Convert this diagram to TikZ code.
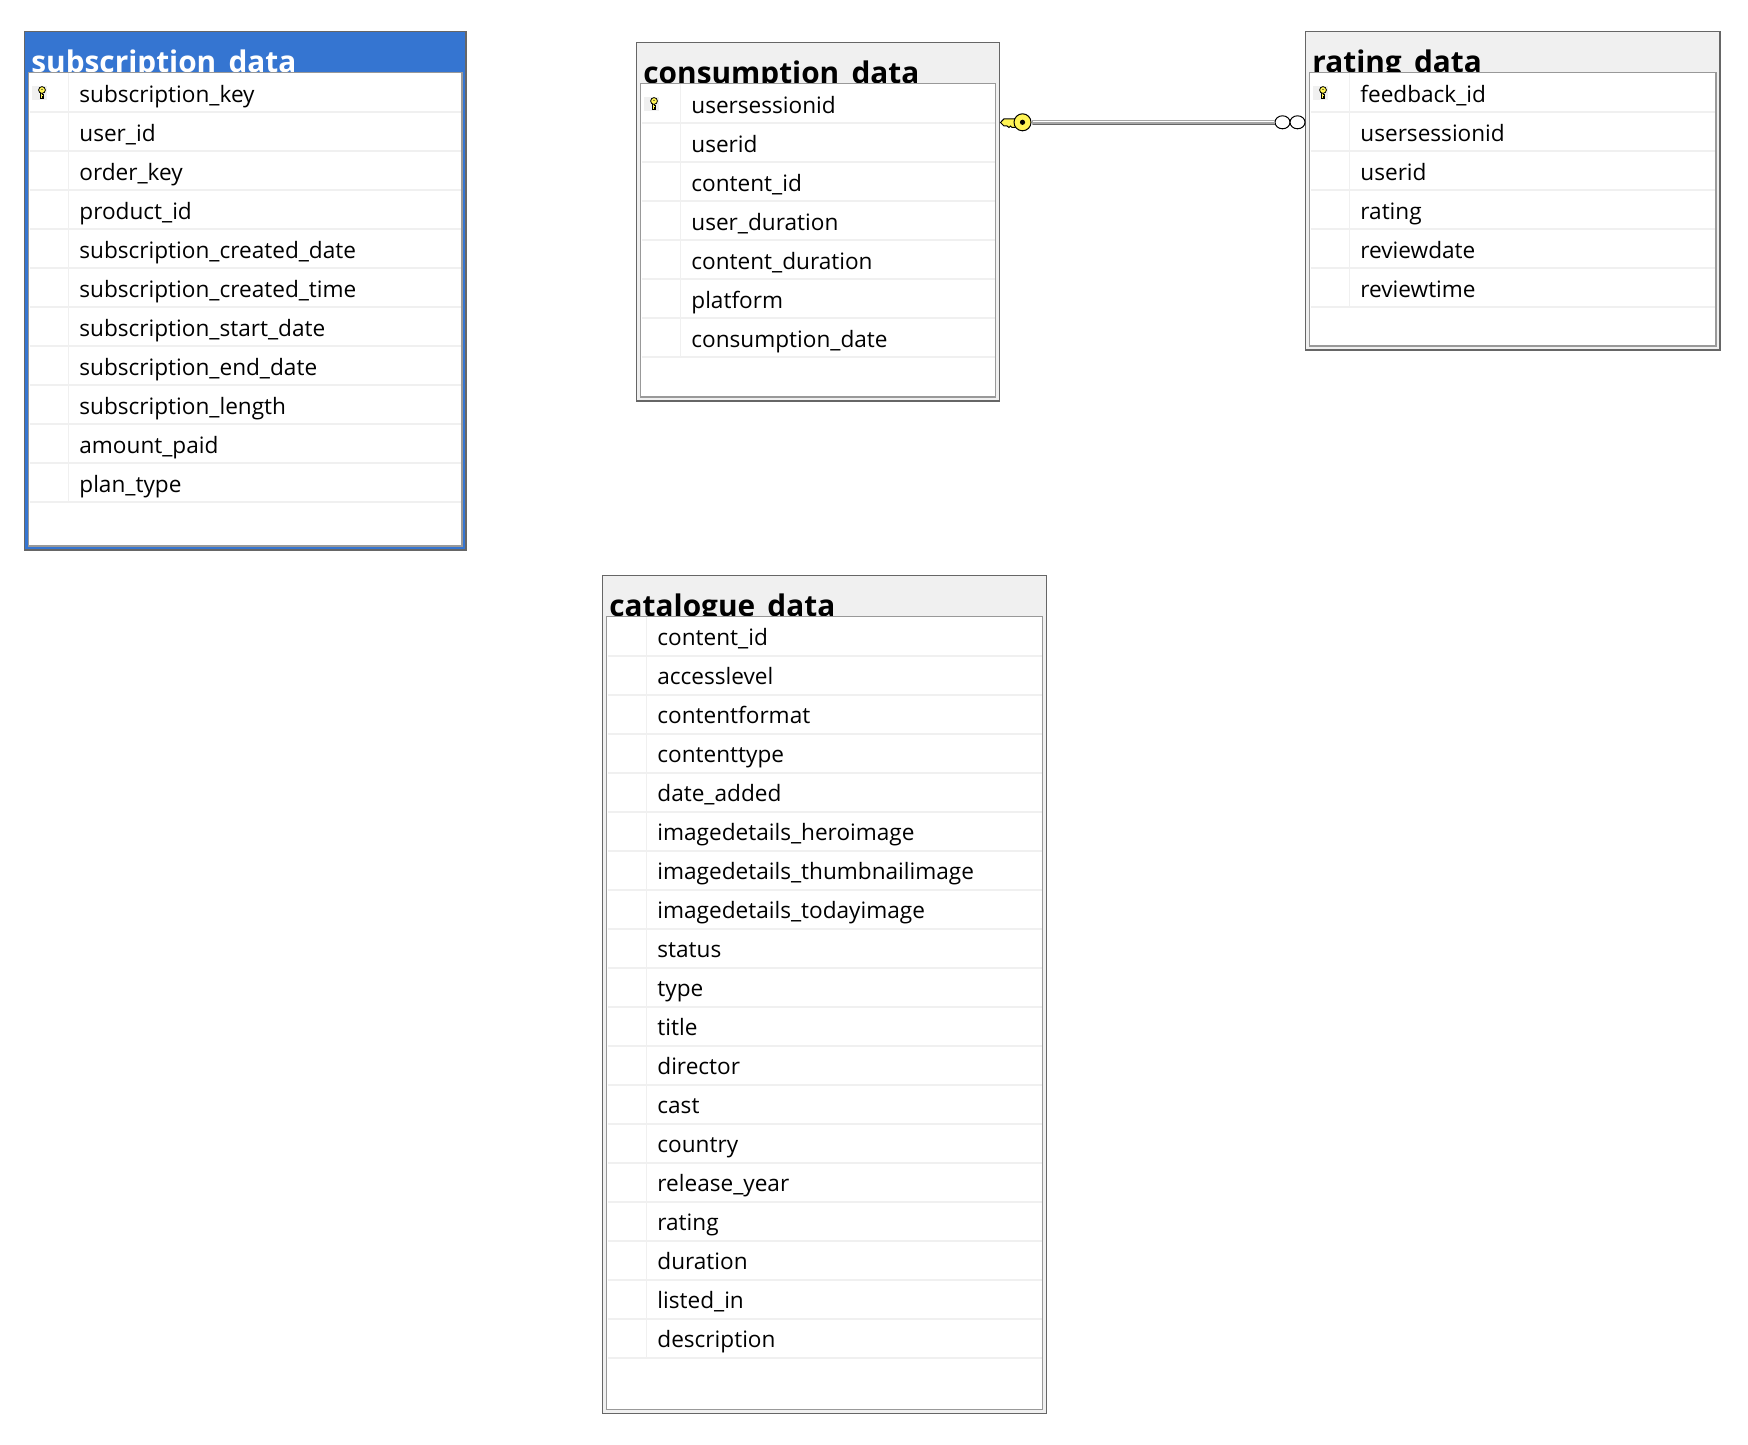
\documentclass[tikz,border=0pt]{standalone}
\usepackage{fontspec}
\usepackage{xcolor}
\usetikzlibrary{shapes.geometric}
\setmainfont{Open Sans}
\definecolor{selblue}{HTML}{3575D1}
\definecolor{band}{HTML}{F0F0F0}
\definecolor{keyyellow}{HTML}{FFF455}
\tikzset{
  tableframe/.style={draw=black!60, line width=0.8pt, anchor=north west, inner sep=0pt, outer sep=0pt},
  tablebody/.style={draw=black!40, line width=0.6pt, fill=white, anchor=north west, inner sep=0pt, outer sep=0pt},
  tabletitle/.style={anchor=base west, inner sep=0pt, font=\fontsize{14.9}{18}\bfseries\selectfont},
  rowtext/.style={anchor=base west, inner sep=0pt, font=\fontsize{11.3}{14}\selectfont},
  rowline/.style={draw=band, line width=0.6pt},
  ring/.style={ellipse, draw=black, line width=0.5pt, fill=white, minimum width=7.5pt, minimum height=6.5pt, inner sep=0pt, outer sep=0pt},
  smallkey/.pic={
    \fill[band] (-10,-5) rectangle (5,9);
    \draw[fill=keyyellow, line width=0.4pt] (-1.4,0.5) -- (-1.4,7.5) -- (1.8,7.5) -- (1.8,6) -- (0.8,6) -- (0.8,5) -- (1.8,5) -- (1.8,3.5) -- (0.8,3.5) -- (0.8,0.5) -- cycle;
    \draw[fill=keyyellow, line width=0.4pt] (0,-1) circle (3.4);
    \fill (0,-1.5) circle (0.7);
  }
}
\begin{document}
\begin{tikzpicture}[x=0.5pt, y=-0.5pt]
\useasboundingbox (0,0) rectangle (1748,1444);

% subscription table, selected one
\begin{scope}[shift={(24.5,31.5)}]
\node[tableframe, fill=selblue, minimum width=220.75pt, minimum height=259.25pt] (subscription) at (0,0) {};
\node[tabletitle, text=white] (subscriptiontitle) at (6.5,41.5) {subscription\_data};
\node[tablebody, minimum width=216.75pt, minimum height=236.75pt] (subscriptionbody) at (4,41) {};
\pic at (17.5,59.5) {smallkey};
\draw[rowline] (44,41.5) -- (44,470.5);
\foreach \t [count=\i] in {subscription\_key, user\_id, order\_key, product\_id, subscription\_created\_date, subscription\_created\_time, subscription\_start\_date, subscription\_end\_date, subscription\_length, amount\_paid, plan\_type} {
    \draw[rowline] (5,{41.5+39*\i}) -- (436.5,{41.5+39*\i});
    \node[rowtext] (subscription\i) at (54.5,{32+39*\i}) {\t};
}
\end{scope}

% consumption table
\begin{scope}[shift={(636.5,42.5)}]
\node[tableframe, fill=band, minimum width=181.5pt, minimum height=179.25pt] (consumption) at (0,0) {};
\node[tabletitle] (consumptiontitle) at (6.5,41.5) {consumption\_data};
\node[tablebody, minimum width=177.5pt, minimum height=156.75pt] (consumptionbody) at (4,41) {};
\pic at (17.5,59.5) {smallkey};
\draw[rowline] (44,41.5) -- (44,314.5);
\foreach \t [count=\i] in {usersessionid, userid, content\_id, user\_duration, content\_duration, platform, consumption\_date} {
    \draw[rowline] (5,{41.5+39*\i}) -- (358,{41.5+39*\i});
    \node[rowtext] (consumption\i) at (54.5,{32+39*\i}) {\t};
}
\end{scope}

% rating table
\begin{scope}[shift={(1305.5,31.5)}]
\node[tableframe, fill=band, minimum width=207.25pt, minimum height=159.25pt] (rating) at (0,0) {};
\node[tabletitle] (ratingtitle) at (6.5,41.5) {rating\_data};
\node[tablebody, minimum width=203.25pt, minimum height=136.75pt] (ratingbody) at (4,41) {};
\pic at (17.5,59.5) {smallkey};
\draw[rowline] (44,41.5) -- (44,275.5);
\foreach \t [count=\i] in {feedback\_id, usersessionid, userid, rating, reviewdate, reviewtime} {
    \draw[rowline] (5,{41.5+39*\i}) -- (409.5,{41.5+39*\i});
    \node[rowtext] (rating\i) at (54.5,{32+39*\i}) {\t};
}
\end{scope}

% catalogue table
\begin{scope}[shift={(602.5,575.5)}]
\node[tableframe, fill=band, minimum width=222pt, minimum height=419pt] (catalogue) at (0,0) {};
\node[tabletitle] (cataloguetitle) at (6.5,40.5) {catalogue\_data};
\node[tablebody, minimum width=218pt, minimum height=396.5pt] (cataloguebody) at (4,41) {};
\draw[rowline] (44,41.5) -- (44,782.5);
\foreach \t [count=\i] in {content\_id, accesslevel, contentformat, contenttype, date\_added, imagedetails\_heroimage, imagedetails\_thumbnailimage, imagedetails\_todayimage, status, type, title, director, cast, country, release\_year, rating, duration, listed\_in, description} {
    \draw[rowline] (5,{41.5+39*\i}) -- (439,{41.5+39*\i});
    \node[rowtext] (catalogue\i) at (54.5,{31+39*\i}) {\t};
}
\end{scope}

% relationship
\draw[fill=keyyellow, line width=0.5pt] (1000.5,122.5) -- (1004,118.8) -- (1016,118.8) -- (1016,127.5) -- (1012,127.5) -- (1010.5,126) -- (1009,127.5) -- (1007,126) -- (1004,126) -- cycle;
\node[circle, draw=black, line width=0.5pt, fill=keyyellow, minimum size=8.5pt, inner sep=0pt, outer sep=0pt] (keybow) at (1022.5,122.3) {};
\fill (keybow) circle (2.6);
\node[ring] (ringa) at (1282.5,122.3) {};
\node[ring] (ringb) at (1297.5,122.3) {};
\draw[draw=black!35, line width=2.5pt, shorten <=0.5pt] (keybow) -- (ringa);
\draw[draw=white, line width=0.6pt, shorten <=1pt, shorten >=0.5pt] ([yshift=0.2pt]keybow.east) -- ([yshift=0.2pt]ringa.west);
\draw[draw=black!60, line width=0.5pt, shorten <=1pt] ([yshift=-0.9pt]keybow.east) -- ([yshift=-0.9pt]ringa.west);
\end{tikzpicture}
\end{document}
